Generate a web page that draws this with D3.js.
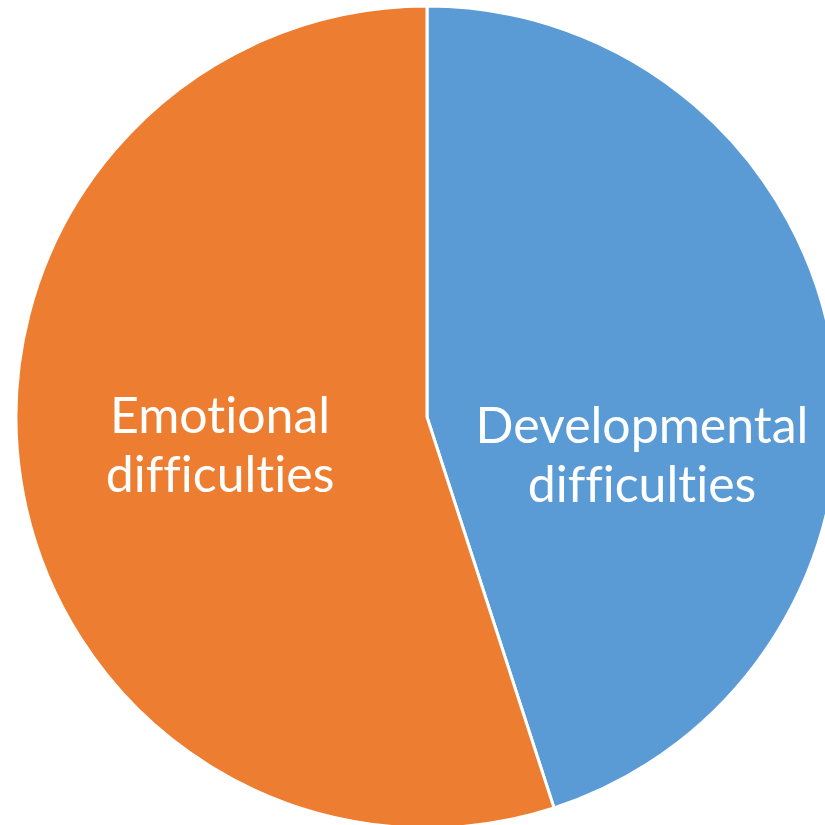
<!DOCTYPE html>
<html>
<head>
<meta charset="utf-8">
<script src="https://cdn.jsdelivr.net/npm/d3@7"></script>
<style>
  html, body { margin: 0; padding: 0; background: #fff; }
  svg { display: block; }
</style>
</head>
<body>
<script>
const categories = ["Developmental difficulties", "Emotional difficulties"];
const values = [45, 55];
const colors = ["#5B9BD5", "#ED7D31"];

const width = 825, height = 825;
const cx = 427, cy = 417, radius = 411;

// label nudges (px), Excel "best fit" doesn't sit exactly on the centroid
const labelShift = [[12, 70], [-4, -4]];

const svg = d3.select("body")
  .append("svg")
  .attr("width", width)
  .attr("height", height);

const g = svg.append("g")
  .attr("transform", "translate(" + cx + "," + cy + ")");

const pie = d3.pie().sort(null).value(d => d);
const arcs = pie(values);

const arc = d3.arc().innerRadius(0).outerRadius(radius);
const labelArc = d3.arc().innerRadius(radius * 0.5).outerRadius(radius * 0.5);

g.selectAll(".slice")
  .data(arcs)
  .enter()
  .append("path")
  .attr("class", "slice")
  .attr("d", arc)
  .style("fill", (d, i) => colors[i])
  .style("stroke", "#fff")
  .style("stroke-width", 3)
  .style("stroke-linejoin", "round");

const fontSize = 50;
const lineH = 59;

const labels = g.selectAll(".label")
  .data(arcs)
  .enter()
  .append("text")
  .attr("class", "label")
  .attr("transform", (d, i) => {
    const c = labelArc.centroid(d);
    return "translate(" + (c[0] + labelShift[i][0]) + "," + (c[1] + labelShift[i][1]) + ")";
  })
  .style("font-family", "Lato, 'Open Sans', sans-serif")
  .style("font-size", fontSize + "px")
  .style("font-variant-ligatures", "none")
  .style("fill", "#fff")
  .style("text-anchor", "middle");

labels.each(function(d, i) {
  const words = categories[i].split(" ");
  const t = d3.select(this);
  words.forEach((w, j) => {
    t.append("tspan")
      .attr("x", 0)
      .attr("y", (j - (words.length - 1) / 2) * lineH + fontSize * 0.35)
      .text(w);
  });
});
</script>
</body>
</html>
